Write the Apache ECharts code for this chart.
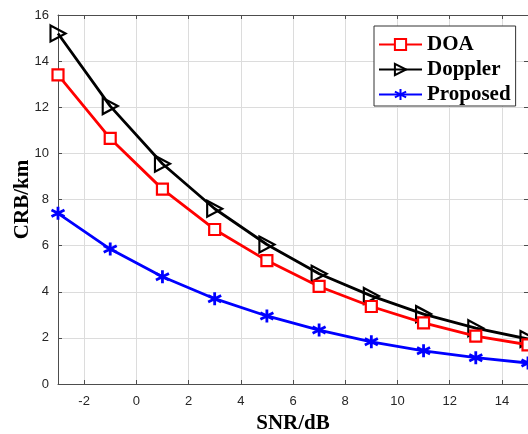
<!DOCTYPE html>
<html>
<head>
<meta charset="utf-8">
<script src="https://cdn.jsdelivr.net/npm/echarts@6/dist/echarts.min.js"></script>
<style>
  html, body { margin: 0; padding: 0; background: #fff; }
  #main { width: 528px; height: 434px; }
</style>
</head>
<body>
<div id="main"></div>
<script>
// 数据
var snr = [-3, -1, 1, 3, 5, 7, 9, 11, 13, 15];
var doaCrb = [13.4, 10.65, 8.45, 6.7, 5.35, 4.23, 3.36, 2.65, 2.08, 1.7];
var dopplerCrb = [15.2, 12.05, 9.55, 7.6, 6.05, 4.78, 3.82, 3.03, 2.42, 1.95];
var proposedCrb = [7.4, 5.85, 4.65, 3.7, 2.95, 2.34, 1.83, 1.44, 1.14, 0.91];
var xTicks = [-2, 0, 2, 4, 6, 8, 10, 12, 14];

function pairs(ys) {
    return snr.map(function (x, i) { return [x, ys[i]]; });
}

var myChart = echarts.init(document.getElementById('main'));

var tickFont = { color: '#262626', fontSize: 13, fontFamily: 'Liberation Sans' };
var axisLine = { onZero: false, lineStyle: { color: '#4d4d4d', width: 1 } };
var gridLine = { lineStyle: { color: '#dcdcdc', width: 1 } };
var nameFont = { fontFamily: 'Liberation Serif', fontWeight: 'bold', fontSize: 21, color: '#000' };

var option = {
    animation: false,
    backgroundColor: '#fff',
    grid: { left: 58, top: 15, right: 0, bottom: 50, outerBoundsMode: 'none' },
    legend: {
        orient: 'vertical',
        left: 374,
        top: 26,
        padding: [8, 5, 1, 4],
        itemWidth: 43,
        itemHeight: 14,
        itemGap: 4,
        borderColor: '#333',
        borderWidth: 1,
        backgroundColor: '#fff',
        textStyle: { fontFamily: 'Liberation Serif', fontWeight: 'bold', fontSize: 21, color: '#000' },
        data: ['DOA', 'Doppler', 'Proposed']
    },
    xAxis: [{
        type: 'value',
        min: -3,
        max: 15,
        name: 'SNR/dB',
        nameLocation: 'middle',
        nameGap: 28,
        nameTextStyle: nameFont,
        axisLine: axisLine,
        axisTick: { inside: true, length: 4, customValues: xTicks, lineStyle: { color: '#4d4d4d' } },
        axisLabel: Object.assign({ customValues: xTicks, margin: 11 }, tickFont),
        splitLine: Object.assign({ show: true }, gridLine)
    }, {
        type: 'value',
        position: 'top',
        min: -3,
        max: 15,
        axisLine: axisLine,
        axisTick: { inside: true, length: 4, customValues: xTicks, lineStyle: { color: '#4d4d4d' } },
        axisLabel: { show: false },
        splitLine: { show: false }
    }],
    yAxis: [{
        type: 'value',
        min: 0,
        max: 16,
        interval: 2,
        name: 'CRB/km',
        nameLocation: 'middle',
        nameGap: 25,
        nameMoveOverlap: false,
        nameTextStyle: nameFont,
        axisLine: Object.assign({ show: true }, axisLine),
        axisTick: { show: true, inside: true, length: 4, lineStyle: { color: '#4d4d4d' } },
        axisLabel: Object.assign({ margin: 9 }, tickFont),
        splitLine: Object.assign({ show: true }, gridLine)
    }, {
        type: 'value',
        position: 'right',
        min: 0,
        max: 16,
        interval: 2,
        axisLine: Object.assign({ show: true }, axisLine),
        axisTick: { show: true, inside: true, length: 4, lineStyle: { color: '#4d4d4d' } },
        axisLabel: { show: false },
        splitLine: { show: false }
    }],
    series: [{
        name: 'DOA',
        type: 'line',
        data: pairs(doaCrb),
        symbol: 'rect',
        symbolSize: 11,
        lineStyle: { color: '#ff0000', width: 2.8 },
        itemStyle: { color: '#fff', borderColor: '#ff0000', borderWidth: 2.2 },
        z: 3
    }, {
        name: 'Doppler',
        type: 'line',
        data: pairs(dopplerCrb),
        symbol: 'path://M0,0L10,5L0,10Z',
        symbolSize: [15, 16],
        lineStyle: { color: '#000', width: 2.8 },
        itemStyle: { color: 'rgba(255,255,255,0)', borderColor: '#000', borderWidth: 2.2 },
        z: 2
    }, {
        name: 'Proposed',
        type: 'line',
        data: pairs(proposedCrb),
        symbol: 'path://M0,-6L0,6M-5.2,-3L5.2,3M-5.2,3L5.2,-3',
        symbolSize: 13,
        lineStyle: { color: '#0000ff', width: 2.8 },
        itemStyle: { color: '#0000ff', borderColor: '#0000ff', borderWidth: 2.8 },
        z: 4
    }]
};

myChart.setOption(option);
</script>
</body>
</html>
